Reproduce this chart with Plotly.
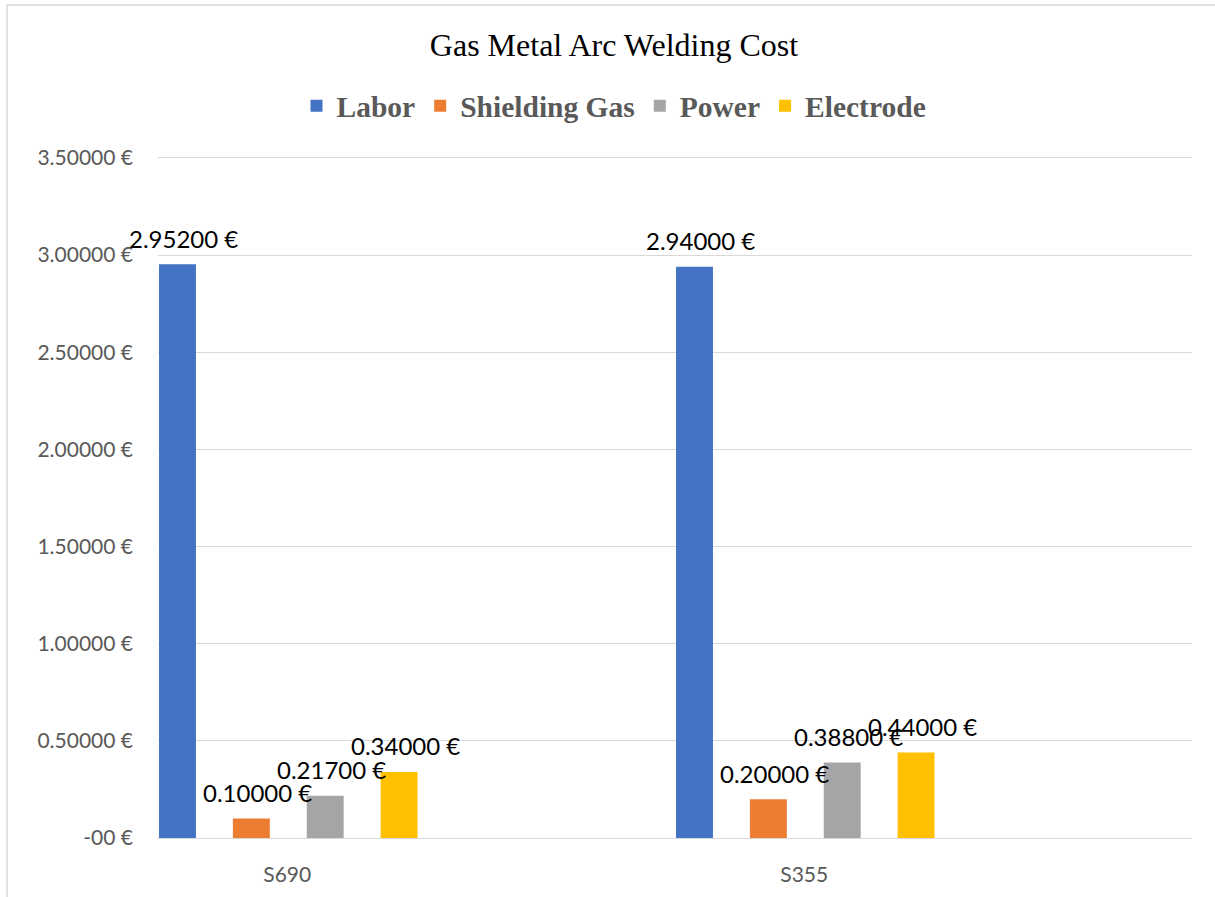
import plotly.graph_objects as go

categories = ["S690", "S355"]
series_names = ["Labor", "Shielding Gas", "Power", "Electrode"]
labor = [2.952, 2.94]
shielding_gas = [0.10, 0.20]
power = [0.217, 0.388]
electrode = [0.34, 0.44]
y_tick_values = [0, 0.5, 1.0, 1.5, 2.0, 2.5, 3.0, 3.5]
y_tick_labels = ["-00 €", "0.50000 €", "1.00000 €", "1.50000 €", "2.00000 €",
                 "2.50000 €", "3.00000 €", "3.50000 €"]

colors = ["#4472C4", "#ED7D31", "#A5A5A5", "#FFC000"]
series_values = [labor, shielding_gas, power, electrode]

slot = 1 / 7
bar_w = slot / 2
cat_pos = list(range(len(categories)))

fig = go.Figure()
annotations = []
for i, (name, vals, col) in enumerate(zip(series_names, series_values, colors)):
    off = i * slot + 0.002
    fig.add_trace(go.Bar(
        name=name, x=cat_pos, y=vals, offset=off, width=bar_w,
        marker=dict(color=col, line=dict(width=0)),
    ))
    for cx, v in zip(cat_pos, vals):
        annotations.append(dict(
            x=cx + off + bar_w / 2, y=v, xref="x", yref="y",
            text=f"{v:.5f} €", showarrow=False,
            xanchor="center", yanchor="middle", xshift=6, yshift=26,
            font=dict(family="Lato", size=24, color="#000000"),
        ))

ymax = 3.52
plot_h = 684
top = 838 - plot_h
fig.update_layout(
    width=1215, height=897,
    margin=dict(l=158, r=23, t=top, b=59, pad=0),
    paper_bgcolor="white", plot_bgcolor="white",
    barmode="overlay",
    title=dict(text="Gas Metal Arc Welding Cost", x=614 / 1215, xref="container",
               xanchor="center", y=1 - 45 / 897, yref="container", yanchor="middle",
               font=dict(family="Liberation Serif", size=32, color="#000000")),
    legend=dict(orientation="h", x=(614 - 158) / 1034, xanchor="center",
                y=(838 - 106) / plot_h, yanchor="middle",
                font=dict(family="Liberation Serif", size=29.5, color="#595959", weight="bold"),
                itemclick=False, traceorder="normal"),
    xaxis=dict(range=[0, 2], tickvals=[c + 0.25 for c in cat_pos], ticktext=categories,
               showgrid=False, zeroline=False, showline=True, linecolor="#D9D9D9",
               linewidth=1, ticks="", ticklabelstandoff=18,
               tickfont=dict(family="Lato", size=21, color="#595959")),
    yaxis=dict(range=[0, ymax], tickvals=y_tick_values, ticktext=y_tick_labels,
               showgrid=True, gridcolor="#D9D9D9", gridwidth=1, zeroline=False,
               showline=False, ticks="", ticklabelstandoff=24,
               tickfont=dict(family="Lato", size=21, color="#595959")),
    annotations=annotations,
    shapes=[
        dict(type="line", xref="paper", yref="paper",
             x0=(7 - 158) / 1034, x1=(7 - 158) / 1034,
             y0=(838 - 897) / plot_h, y1=(838 - 5) / plot_h,
             line=dict(color="#D9D9D9", width=1.5)),
        dict(type="line", xref="paper", yref="paper",
             x0=(7 - 158) / 1034, x1=(1215 - 158) / 1034,
             y0=(838 - 5) / plot_h, y1=(838 - 5) / plot_h,
             line=dict(color="#D9D9D9", width=1.5)),
    ],
    showlegend=True,
)

fig.write_html("out.html")
